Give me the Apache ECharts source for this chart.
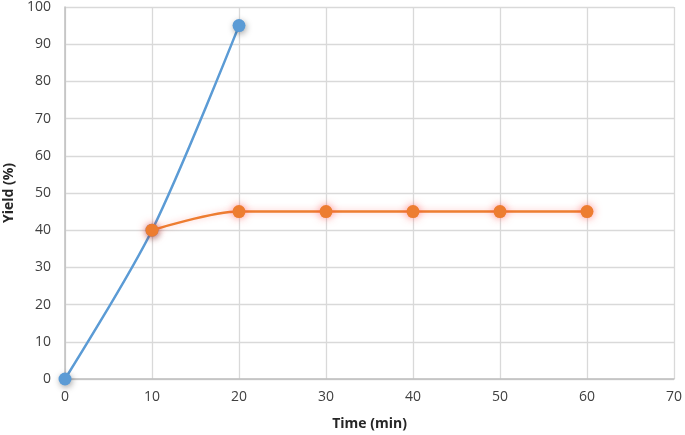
<!DOCTYPE html>
<html><head><meta charset="utf-8">
<script src="https://cdn.jsdelivr.net/npm/echarts@6/dist/echarts.min.js"></script>
<style>html,body{margin:0;padding:0;background:#fff}#c{width:685px;height:435px}</style>
</head><body><div id="c"></div>
<script>
const blueX = [0, 10, 20];
const blueY = [0, 40, 95];
const orangeX = [10, 20, 30, 40, 50, 60];
const orangeY = [40, 45, 45, 45, 45, 45];
const xName = 'Time (min)';
const yName = 'Yield (%)';

const chart = echarts.init(document.getElementById('c'), null, {renderer: 'canvas'});
const font = '"Open Sans", "Liberation Sans", sans-serif';
chart.setOption({
  animation: false,
  grid: {left: 65, right: 11, top: 7, bottom: 56, outerBoundsMode: 'none', containLabel: false},
  xAxis: {
    type: 'value', min: 0, max: 70, interval: 10,
    name: xName, nameLocation: 'middle', nameGap: 38,
    nameTextStyle: {fontFamily: font, fontWeight: 'bold', fontSize: 14, color: '#262626'},
    axisLine: {show: true, lineStyle: {color: '#bfbfbf', width: 1.5}},
    axisTick: {show: false},
    axisLabel: {fontFamily: font, fontSize: 14, color: '#404040', margin: 11},
    splitLine: {show: true, lineStyle: {color: '#d9d9d9', width: 1.3}}
  },
  yAxis: {
    type: 'value', min: 0, max: 100, interval: 10,
    name: yName, nameLocation: 'middle', nameGap: 46,
    nameTextStyle: {fontFamily: font, fontWeight: 'bold', fontSize: 14, color: '#262626'},
    axisLine: {show: true, lineStyle: {color: '#bfbfbf', width: 1.5}},
    axisTick: {show: false},
    axisLabel: {fontFamily: font, fontSize: 14, color: '#404040', margin: 14},
    splitLine: {show: true, lineStyle: {color: '#d9d9d9', width: 1.3}}
  },
  series: [
    {
      type: 'line', smooth: 0.3,
      data: blueX.map((x, i) => [x, blueY[i]]),
      symbol: 'circle', symbolSize: 13,
      lineStyle: {color: '#5b9bd5', width: 2.5},
      itemStyle: {color: '#5b9bd5', shadowColor: 'rgba(0,0,0,0.35)', shadowBlur: 6, shadowOffsetX: 1, shadowOffsetY: 2},
      z: 2
    },
    {
      type: 'line', smooth: 0.3,
      data: orangeX.map((x, i) => [x, orangeY[i]]),
      symbol: 'circle', symbolSize: 13,
      lineStyle: {color: '#ed7d31', width: 2.5, shadowColor: 'rgba(255,80,80,0.35)', shadowBlur: 6},
      itemStyle: {color: '#ed7d31', shadowColor: 'rgba(255,60,60,0.6)', shadowBlur: 8},
      z: 3
    }
  ]
});
</script></body></html>
